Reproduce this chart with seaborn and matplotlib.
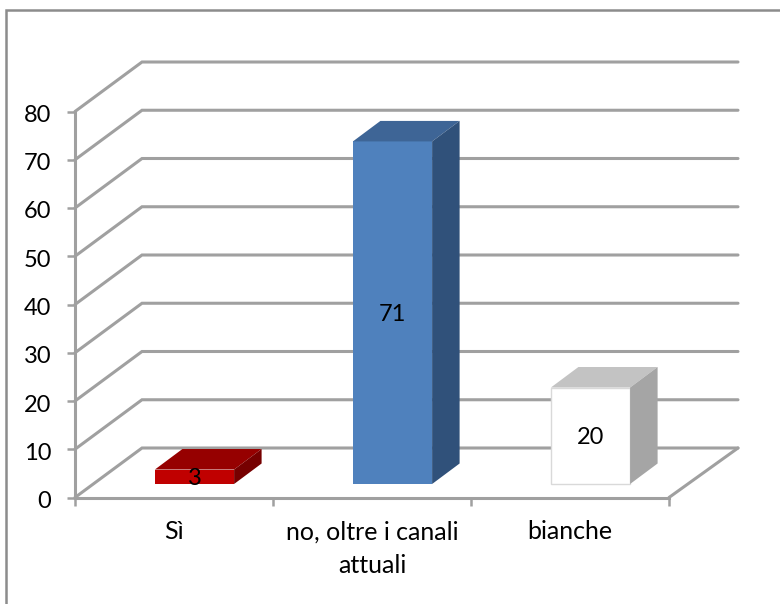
import matplotlib
matplotlib.use('Agg')
import matplotlib.pyplot as plt
from matplotlib.patches import Rectangle
from matplotlib.transforms import Affine2D
import pandas as pd
import seaborn as sns

categories = ['Sì', 'no, oltre i canali\nattuali', 'bianche']
values = [3, 71, 20]
y_ticks = [0, 10, 20, 30, 40, 50, 60, 70, 80]
front_colors = ['#c00000', '#4f81bd', '#ffffff']
top_colors = ['#960000', '#3e6596', '#c3c3c3']
side_colors = ['#760000', '#30517a', '#a5a5a5']

LINE = '#a0a0a0'
W, H = 780, 604

sns.set_style('white')
plt.rcParams['font.family'] = ['Lato', 'DejaVu Sans']

fig = plt.figure(figsize=(W / 100, H / 100), dpi=100)
# axes covers the front plane of the fake 3d box
ax = fig.add_axes([75 / W, 1 - 497.5 / H, 594 / W, 386 / H], facecolor='none')

plot_data = pd.DataFrame({'category': categories, 'value': values})
sns.barplot(data=plot_data, x='category', y='value', hue='category', palette=front_colors,
            width=0.4, legend=False, saturation=1, ax=ax, zorder=3)

ax.set_xlim(-0.5, 2.5)
ax.set_ylim(0, 80)

# pixel sizes expressed in data units
px_x = 3 / 594
px_y = 80 / 386
wall_x, wall_y = 67 * px_x, 49.5 * px_y
shift_x, shift_y = 20.5 * px_x, 13.5 * px_y
depth_x, depth_y = 27.5 * px_x, 20.5 * px_y

# back wall and left wall lines
for v in y_ticks:
    ax.plot([-0.5, -0.5 + wall_x, 2.5 + wall_x + 2 * px_x], [v, v + wall_y, v + wall_y],
            color=LINE, lw=2.2, clip_on=False, zorder=1, solid_joinstyle='miter')
ax.plot([2.5, 2.5 + wall_x + 2 * px_x], [0, wall_y], color=LINE, lw=2.2, clip_on=False, zorder=1)

# move bars into the box and add top and side faces
for bar, val, top_c, side_c, front_c in zip(ax.patches, values, top_colors, side_colors, front_colors):
    bar.set_x(bar.get_x() + shift_x)
    bar.set_y(shift_y)
    bar.set_clip_on(False)
    bar.set_linewidth(0)
    if front_c == '#ffffff':
        bar.set_edgecolor('#d9d9d9')
        bar.set_linewidth(1)
    x0 = bar.get_x()
    x1 = x0 + bar.get_width()
    y0 = shift_y
    y1 = y0 + val
    ax.fill([x0, x1, x1 + depth_x, x0 + depth_x], [y1, y1, y1 + depth_y, y1 + depth_y],
            color=top_c, lw=0, clip_on=False, zorder=3)
    ax.fill([x1, x1 + depth_x, x1 + depth_x, x1], [y0, y0 + depth_y, y1 + depth_y, y1],
            color=side_c, lw=0, clip_on=False, zorder=3)
    ax.text((x0 + x1) / 2, (y0 + y1) / 2 - 1.5 * px_y, str(val), ha='center', va='center',
            fontsize=17, color='black', zorder=5)

sns.despine(ax=ax)
for side in ['left', 'bottom']:
    ax.spines[side].set_color(LINE)
    ax.spines[side].set_linewidth(2.2)
    ax.spines[side].set_zorder(2)

ax.set_xlabel('')
ax.set_ylabel('')
ax.set_yticks(y_ticks)
ax.set_xticks([0, 1, 2])
ax.set_xticklabels(categories, linespacing=1.56)
ax.set_xticks([-0.5, 0.5, 1.5, 2.5], minor=True)
ax.tick_params(axis='y', length=6, width=1.8, color=LINE, left=True, labelsize=17, pad=11, labelcolor='black')
ax.tick_params(axis='x', which='major', length=0, pad=16.5, labelsize=18, labelcolor='black')
ax.tick_params(axis='x', which='minor', length=5.5, width=1.8, color=LINE, bottom=True)

# nudge value labels down so they sit level with their ticks
for label in ax.get_yticklabels():
    label.set_transform(label.get_transform() + Affine2D().translate(0, -2))

# outer chart frame, runs off the canvas on the right and bottom
fig.add_artist(Rectangle((6 / W, -0.02), 1.02, 1 - 10 / H + 0.02, transform=fig.transFigure,
                         fill=False, edgecolor='#8c8c8c', lw=1.8))

fig.savefig('out.png', dpi=100)
plt.close(fig)
